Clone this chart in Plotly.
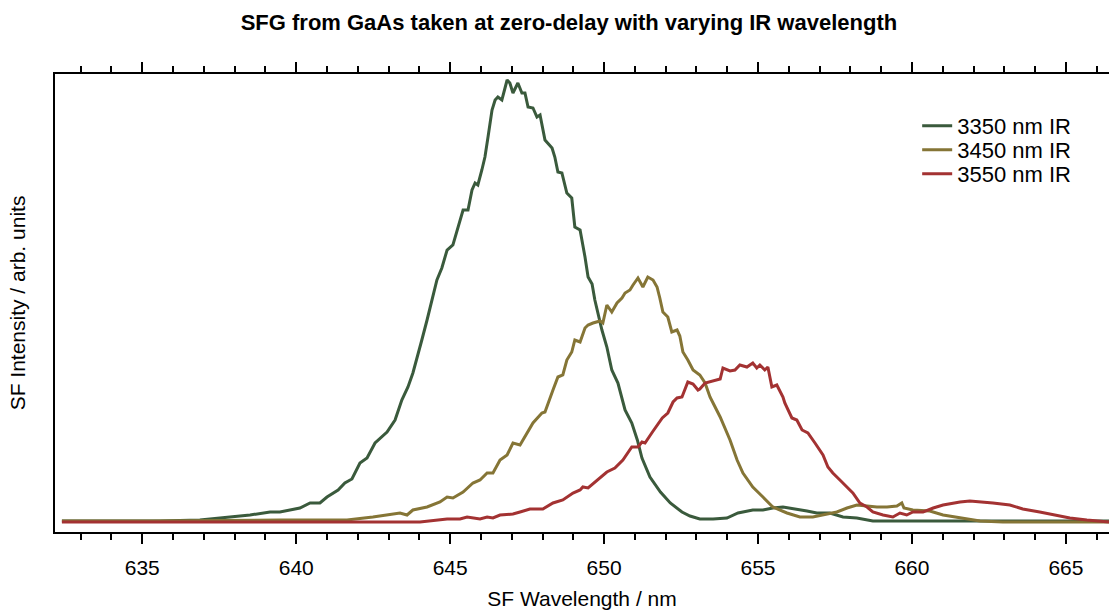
import plotly.graph_objects as go

# 3350 nm IR
wl_3350 = [632.39, 633.63, 635.57, 636.87, 637.95, 638.50, 639.15, 639.47, 640.12, 640.45, 640.77, 641.00,
           641.36, 641.58, 641.81, 642.07, 642.30, 642.56, 642.95, 643.21, 643.43, 643.63, 643.79, 643.92,
           644.08, 644.25, 644.41, 644.57, 644.73, 644.90, 645.09, 645.25, 645.42, 645.58, 645.71, 645.81,
           645.90, 646.03, 646.13, 646.23, 646.36, 646.46, 646.55, 646.68, 646.85, 646.94, 647.04, 647.20,
           647.33, 647.43, 647.53, 647.69, 647.82, 647.92, 648.08, 648.31, 648.40, 648.50, 648.63, 648.79,
           648.95, 649.05, 649.22, 649.38, 649.48, 649.61, 649.70, 649.93, 650.09, 650.25, 650.45, 650.68,
           650.90, 651.08, 651.23, 651.49, 651.83, 652.15, 652.53, 652.79, 653.11, 653.54, 653.99, 654.35,
           654.51, 654.83, 655.16, 655.48, 655.81, 656.26, 656.59, 656.91, 657.33, 657.76, 658.21, 658.73,
           659.51, 660.58, 662.86, 666.40]
int_3350 = [11, 11, 11, 12, 15, 17, 20, 20, 24, 29, 29, 35,
            42, 49, 53, 69, 74, 89, 100, 112, 132, 145, 159, 175,
            192, 212, 232, 252, 264, 282, 287, 304, 322, 322, 342, 349,
            347, 362, 375, 395, 422, 432, 435, 432, 452, 449, 439, 449,
            439, 439, 425, 424, 415, 417, 392, 384, 375, 360, 359, 339,
            334, 305, 302, 275, 255, 248, 232, 202, 185, 162, 149, 122,
            109, 92, 74, 55, 40, 29, 20, 16, 13, 13, 14, 19,
            20, 22, 22, 24, 25, 23, 21, 19, 19, 15, 14, 11,
            11, 11, 11, 11]

# 3450 nm IR
wl_3450 = [632.39, 635.25, 639.47, 641.65, 642.49, 643.37, 643.60, 643.79, 644.25, 644.67, 644.90, 645.09,
           645.42, 645.74, 645.97, 646.20, 646.39, 646.62, 646.85, 647.04, 647.27, 647.43, 647.69, 647.98,
           648.08, 648.34, 648.50, 648.66, 648.79, 648.95, 649.05, 649.22, 649.38, 649.48, 649.64, 649.87,
           649.96, 650.09, 650.25, 650.42, 650.58, 650.68, 650.84, 650.94, 651.10, 651.26, 651.42, 651.59,
           651.72, 651.81, 651.91, 652.07, 652.20, 652.37, 652.46, 652.56, 652.72, 652.89, 653.11, 653.28,
           653.44, 653.54, 653.77, 654.09, 654.32, 654.51, 654.83, 655.16, 655.48, 655.94, 656.36, 656.78,
           657.11, 657.56, 657.89, 658.21, 658.54, 658.86, 659.19, 659.51, 659.67, 659.74, 660.03, 660.58,
           661.01, 661.66, 662.21, 662.95, 666.40]
int_3450 = [11, 11, 12, 12, 15, 19, 17, 22, 25, 30, 35, 34,
            40, 49, 52, 59, 59, 72, 77, 89, 87, 95, 109, 119,
            120, 142, 155, 157, 172, 180, 192, 190, 204, 207, 209, 211,
            209, 227, 220, 229, 234, 239, 242, 247, 254, 245, 255, 252,
            245, 234, 220, 215, 200, 202, 196, 180, 172, 162, 157, 149,
            135, 129, 115, 92, 72, 59, 45, 35, 25, 19, 15, 15,
            17, 20, 24, 27, 26, 25, 25, 26, 29, 24, 22, 21,
            17, 14, 11, 10, 10]

# 3550 nm IR
wl_3550 = [632.39, 636.87, 642.72, 644.02, 644.90, 645.32, 645.55, 645.97, 646.20, 646.39, 646.62, 647.04,
           647.27, 647.59, 648.01, 648.34, 648.66, 648.99, 649.22, 649.31, 649.48, 649.87, 650.09, 650.35,
           650.61, 650.90, 651.10, 651.23, 651.33, 651.57, 651.89, 652.07, 652.24, 652.37, 652.53, 652.72,
           652.89, 653.05, 653.11, 653.28, 653.54, 653.77, 653.86, 654.09, 654.25, 654.41, 654.64, 654.83,
           654.96, 655.06, 655.22, 655.32, 655.45, 655.61, 655.81, 655.87, 656.10, 656.26, 656.43, 656.62,
           656.85, 657.11, 657.27, 657.43, 657.66, 657.89, 658.08, 658.31, 658.54, 658.73, 659.06, 659.38,
           659.61, 659.83, 660.03, 660.36, 660.69, 661.01, 661.34, 661.56, 661.88, 662.30, 662.63, 663.18,
           663.60, 664.15, 664.71, 665.13, 665.68, 666.40]
int_3550 = [10, 10, 10, 10, 13, 13, 15, 13, 15, 14, 17, 18,
            20, 23, 23, 29, 32, 39, 42, 45, 44, 54, 60, 64,
            72, 85, 85, 90, 89, 100, 114, 119, 130, 134, 135, 150,
            148, 142, 143, 149, 151, 153, 164, 161, 162, 167, 165, 169,
            164, 167, 162, 165, 145, 147, 135, 129, 114, 112, 102, 99,
            89, 77, 65, 59, 52, 45, 39, 29, 25, 20, 17, 15,
            19, 17, 20, 20, 24, 27, 29, 30, 31, 30, 29, 27,
            23, 20, 17, 14, 12, 10]

series = [
    ("3350 nm IR", wl_3350, int_3350, "#3a5a3c", "legend"),
    ("3450 nm IR", wl_3450, int_3450, "#857536", "legend2"),
    ("3550 nm IR", wl_3550, int_3550, "#a33232", "legend3"),
]

FONT = "Liberation Sans, Arial, sans-serif"

fig = go.Figure()
for name, x, y, c, lg in series:
    fig.add_trace(go.Scatter(x=x, y=y, mode="lines", name=name, legend=lg,
                             line=dict(color=c, width=3)))

def leg(ypos):
    return dict(x=0.818, y=ypos, xanchor="left", yanchor="middle",
                bgcolor="rgba(0,0,0,0)", font=dict(size=22, family=FONT),
                itemwidth=30)

fig.update_layout(
    width=1109, height=610,
    margin=dict(l=55, r=0, t=74, b=78),
    paper_bgcolor="white", plot_bgcolor="white",
    font=dict(family=FONT, size=21, color="black"),
    title=dict(text="<b>SFG from GaAs taken at zero-delay with varying IR wavelength</b>",
               x=0.513, xref="container", xanchor="center",
               y=0.964, yref="container", yanchor="middle",
               font=dict(size=22, family=FONT)),
    showlegend=True,
    legend=leg(0.8865),
    legend2=leg(0.834),
    legend3=leg(0.7817),
    xaxis=dict(range=[632.165, 666.40], showgrid=False, zeroline=False,
               showline=True, linecolor="black", linewidth=2,
               mirror="ticks", ticks="outside", ticklen=10, tickwidth=2,
               tickcolor="black", dtick=5, tick0=635,
               ticklabelstandoff=6,
               minor=dict(ticks="outside", ticklen=6, tickwidth=2,
                          tickcolor="black", dtick=1, showgrid=False),
               title=dict(text="SF Wavelength / nm", standoff=13,
                          font=dict(size=21, family=FONT)),
               tickfont=dict(size=21, family=FONT)),
    yaxis=dict(range=[0, 458], showgrid=False, zeroline=False,
               showline=True, linecolor="black", linewidth=2,
               ticks="", showticklabels=False,
               title=dict(text="SF Intensity / arb. units", standoff=22,
                          font=dict(size=21, family=FONT))),
)

fig.write_html("out.html")
